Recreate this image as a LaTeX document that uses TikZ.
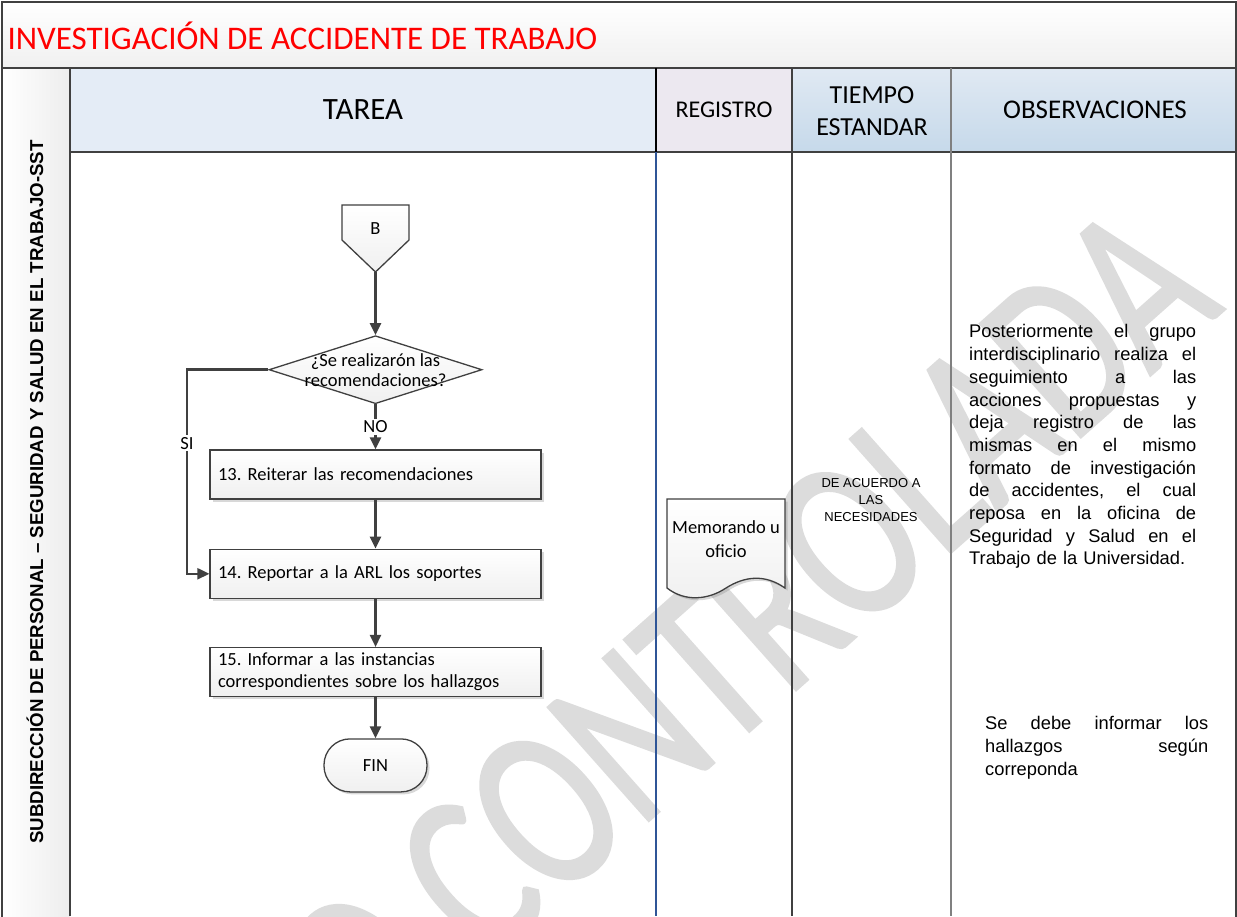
\documentclass[tikz,border=0pt]{standalone}
\usepackage{fontspec}
\setmainfont{Carlito}
\newfontfamily\arialfont{Liberation Sans}
\newfontfamily\marcafont[FakeBold=1.5]{Carlito}
\usetikzlibrary{positioning,shapes.geometric,arrows.meta,shadows}

\definecolor{linegray}{HTML}{404040}
\definecolor{hdrblue}{HTML}{E4ECF6}
\definecolor{hdrlila}{HTML}{ECE8F0}
\definecolor{hdrtop}{HTML}{E0E9F3}
\definecolor{hdrbot}{HTML}{C6D9EA}
\definecolor{regblue}{HTML}{2F5597}
\definecolor{marca}{HTML}{DCDCDC}

\frenchspacing
\newlength{\obswd}
\newcommand{\jl}[1]{\leavevmode\hbox to\obswd{#1}\\}

\begin{document}
\begin{tikzpicture}[%
		x=1pt, y=-1pt,
		>={Triangle[length=12pt,width=11pt]},
		node distance=49pt,
		marco/.style={draw=linegray, line width=2pt},
		flecha/.style={->, draw=linegray, line width=2.5pt},
		caja/.style={draw=linegray, line width=1.3pt, top color=white, bottom color=gray!12},
		sombra/.style={drop shadow={shadow xshift=2.5pt, shadow yshift=-2.5pt, opacity=0.3}},
		paso/.style={%
			caja, sombra,
			rectangle,
			minimum width=331pt,
			minimum height=49pt,
			text width=315pt,
			inner xsep=8pt,
			align=left,
			font=\fontsize{18.5}{22}\selectfont
		},
		decision/.style={caja, diamond, aspect=3.13, minimum width=213pt, minimum height=68pt, inner sep=0pt},
		terminal/.style={caja, sombra, rectangle, rounded corners=26pt, minimum width=103pt, minimum height=53pt,
			font=\fontsize{18.5}{22}\selectfont},
		lbl/.style={fill=white, inner sep=2pt, font=\fontsize{18.5}{22}\selectfont},
		cabeza/.style={align=center, text=black},
		obs/.style={anchor=north west, inner sep=0pt, text width=\obswd,
			font=\arialfont\fontsize{18.3}{22.7}\selectfont}
		]
		\useasboundingbox (0,0) rectangle (1237,916);

		% fondos
		\fill[white] (2,2) rectangle (1236,916);
		\shade[top color=white, bottom color=gray!12] (2,2) rectangle (1236,68);
		\shade[left color=white, right color=gray!14] (2,68) rectangle (70,916);
		\fill[hdrblue] (70,68) rectangle (656,152);
		\fill[hdrlila] (656,68) rectangle (792,152);
		\shade[top color=hdrtop, bottom color=hdrbot] (792,68) rectangle (951,152);
		\shade[top color=hdrtop, bottom color=hdrbot] (951,68) rectangle (1236,152);

		% marca de agua
		\begin{scope}
			\clip (2,2) rectangle (1236,916);
			\node[anchor=east, inner sep=0pt, rotate=41.6, xscale=0.74, text=marca,
				font=\marcafont\fontsize{235}{235}\selectfont] (marcaagua) at (1175,252) {NO CONTROLADA};
		\end{scope}

		% marco
		\draw[marco] (2,2) rectangle (1236,920);
		\draw[marco] (2,68) -- (1236,68);
		\draw[marco] (70,68) -- (70,916);
		\draw[marco] (70,152) -- (1236,152);
		\draw[black, line width=2pt] (656,68) -- (656,152);
		\draw[linegray, line width=2pt] (792,68) -- (792,916);
		\draw[gray, line width=2pt] (951,68) -- (951,916);
		\draw[regblue, line width=1.6pt] (656,152) -- (656,916);

		% textos del encabezado
		\node[anchor=west, text=red, font=\fontsize{33}{36}\selectfont] (titulo) at (4,36) {INVESTIGACIÓN DE ACCIDENTE DE TRABAJO};
		\node[rotate=90, font=\arialfont\bfseries\fontsize{18.7}{20}\selectfont] (area) at (35,492)
			{SUBDIRECCIÓN DE PERSONAL – SEGURIDAD Y SALUD EN EL TRABAJO-SST};
		\node[cabeza, font=\fontsize{31}{34}\selectfont] (hTarea) at (363,110) {TAREA};
		\node[cabeza, font=\fontsize{24}{28}\selectfont] (hRegistro) at (724,110) {REGISTRO};
		\node[cabeza, font=\fontsize{26}{32}\selectfont] (hTiempo) at (872,111) {TIEMPO\\ESTANDAR};
		\node[cabeza, font=\fontsize{27}{30}\selectfont] (hObs) at (1095,110) {OBSERVACIONES};

		% diagrama
		\node[paso] (t13) at (375.5,474.5)                     {13. Reiterar las recomendaciones};
		\node[paso] (t14) [below=of t13]                       {14. Reportar a la ARL los soportes};
		\node[paso] (t15) [below=48pt of t14]                  {15. Informar a las instancias\\correspondientes sobre los hallazgos};
		\node[terminal] (fin) [below=41pt of t15]              {FIN};
		\node[decision] (dec) [above=45pt of t13]              {};
		\node[align=center, font=\fontsize{18.5}{20}\selectfont] (dectxt) at (dec) {¿Se realizarón las\\recomendaciones?};
		% conector de pagina B
		\draw[caja] (342,205) -- (409,205) -- (409,240) -- (375.5,272) -- (342,240) -- cycle;
		\node[font=\fontsize{18.5}{22}\selectfont] (b) at (375.5,229) {B};
		\coordinate (bpunta) at (375.5,272);
		\coordinate (si) at (187,0);

		\path (bpunta) edge[flecha]                 (dec)
		(dec) edge[flecha] node[lbl] {NO}   (t13)
		(t13) edge[flecha]                   (t14)
		(t14) edge[flecha]                   (t15)
		(t15) edge[flecha]                   (fin);
		\draw[flecha] (dec.west) -- (si |- dec.west) -- node[lbl, pos=0.36] {SI} (si |- t14.west) -- (t14.west);

		% registro
		\draw[caja, sombra] (667,499) -- (785,499) -- (785,588)
			.. controls (765,574) and (745,576) .. (726,588)
			.. controls (708,600) and (685,602) .. (667,588) -- cycle;
		\node[align=center, font=\fontsize{18.5}{24}\selectfont] (memo) at (726,539) {Memorando u\\oficio};

		% tiempo
		\node[align=center, font=\arialfont\fontsize{13}{17}\selectfont] (tiempo) at (871,500)
			{DE ACUERDO A\\LAS\\NECESIDADES};

		% observaciones
		\setlength{\obswd}{227pt}
		\node[obs] (obs1) at (969,324.5) {\noindent
			\jl{Posteriormente\hfill el\hfill grupo}
			\jl{interdisciplinario\hfill realiza\hfill el}
			\jl{seguimiento\hfill a\hfill las}
			\jl{acciones\hfill propuestas\hfill y}
			\jl{deja\hfill registro\hfill de\hfill las}
			\jl{mismas\hfill en\hfill el\hfill mismo}
			\jl{formato\hfill de\hfill investigación}
			\jl{de\hfill accidentes,\hfill el\hfill cual}
			\jl{reposa\hfill en\hfill la\hfill oficina\hfill de}
			\jl{Seguridad\hfill y\hfill Salud\hfill en\hfill el}
			Trabajo de la Universidad.};
		\setlength{\obswd}{223pt}
		\node[obs] (obs2) at (985,716.5) {\noindent
			\jl{Se\hfill debe\hfill informar\hfill los}
			\jl{hallazgos\hfill según}
			correponda};
\end{tikzpicture}
\end{document}
